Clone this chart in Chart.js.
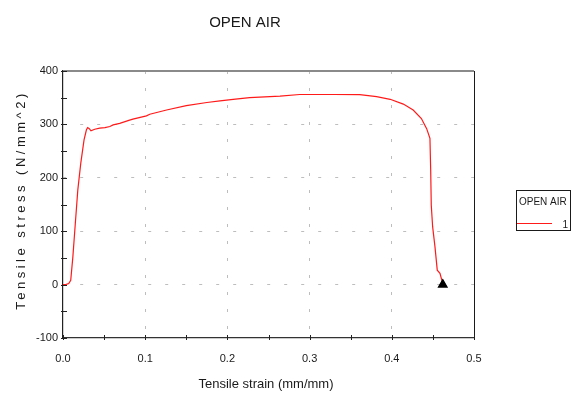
<!DOCTYPE html>
<html>
<head>
<meta charset="utf-8">
<script src="https://cdn.jsdelivr.net/npm/chart.js@4/dist/chart.umd.min.js"></script>
<style>
  html, body { margin: 0; padding: 0; background: #fff; }
  #wrap { width: 578px; height: 398px; }
</style>
</head>
<body>
<div id="wrap"><canvas id="c" width="578" height="398"></canvas></div>
<script>
// Tensile test, specimen "1" tested in open air
const chartTitle = 'OPEN AIR';
const xTitle = 'Tensile strain (mm/mm)';
const yTitle = 'Tensile stress (N/mm^2)';
const seriesName = '1';

const strain = [0, 0.004, 0.007, 0.0094, 0.012, 0.015, 0.018, 0.0216, 0.0256, 0.0285,
  0.030, 0.032, 0.034, 0.0386, 0.0447, 0.051, 0.057, 0.061, 0.069, 0.081,
  0.085, 0.1015, 0.1056, 0.126, 0.150, 0.175, 0.191, 0.207, 0.227, 0.264,
  0.288, 0.330, 0.361, 0.3815, 0.398, 0.414, 0.426, 0.436, 0.4424, 0.4464,
  0.4473, 0.448, 0.4497, 0.4525, 0.4553, 0.4586, 0.4614, 0.462];
const stress = [0, 0.5, 2, 8, 52, 115, 177, 227, 271, 290,
  294, 292, 288, 291, 293, 294, 296, 299, 302, 308,
  310, 316, 319, 327, 335, 341, 344, 347, 350, 353,
  356, 356, 355.6, 352, 347, 338, 327, 311, 292, 274,
  215, 149, 108, 71, 27, 21, 5, 0];

const xMin = 0, xMax = 0.5, xMinor = 0.05;
const yMin = -100, yMax = 400, yMinor = 50;

const FONT = '"Liberation Sans", Arial, sans-serif';
const TEXT = '#1a1a1a';
const GRID = '#bdbdbd';

function isMajor(v, step) {
  const r = Math.abs(v / step - Math.round(v / step));
  return r < 1e-6;
}

const decorations = {
  id: 'decorations',
  afterDraw(chart) {
    const ctx = chart.ctx;
    const a = chart.chartArea;
    const xs = chart.scales.x, ys = chart.scales.y;
    ctx.save();

    // frame: grey top edge, dark right edge
    ctx.strokeStyle = '#8a8a8a';
    ctx.lineWidth = 2;
    ctx.beginPath(); ctx.moveTo(a.left, a.top); ctx.lineTo(a.right, a.top); ctx.stroke();
    ctx.strokeStyle = '#1a1a1a';
    ctx.lineWidth = 1;
    ctx.beginPath(); ctx.moveTo(a.right + 0.5, a.top); ctx.lineTo(a.right + 0.5, a.bottom); ctx.stroke();

    // tick marks crossing the axes
    ctx.strokeStyle = '#222';
    ctx.lineWidth = 1;
    xs.ticks.forEach(t => {
      const px = Math.round(xs.getPixelForValue(t.value)) + 0.5;
      ctx.beginPath(); ctx.moveTo(px, a.bottom - 3); ctx.lineTo(px, a.bottom + 2); ctx.stroke();
    });
    ys.ticks.forEach(t => {
      const py = Math.round(ys.getPixelForValue(t.value)) + 0.5;
      ctx.beginPath(); ctx.moveTo(a.left - 2, py); ctx.lineTo(a.left + 4, py); ctx.stroke();
    });

    ctx.fillStyle = TEXT;
    ctx.textBaseline = 'middle';
    ctx.textAlign = 'center';

    // chart title
    ctx.font = '15px ' + FONT;
    ctx.fillText(chartTitle, 245, 23);

    // axis titles
    ctx.font = '13px ' + FONT;
    ctx.fillText(xTitle, 266, 384);
    ctx.save();
    ctx.translate(21.5, 200);
    ctx.rotate(-Math.PI / 2);
    ctx.letterSpacing = '3.5px';
    ctx.fillText(yTitle, 0, 0);
    ctx.restore();

    // legend box
    const ds = chart.data.datasets[0];
    ctx.strokeStyle = '#1a1a1a';
    ctx.lineWidth = 1;
    ctx.strokeRect(516.5, 190.5, 54, 40);
    ctx.font = '10px ' + FONT;
    ctx.textAlign = 'left';
    ctx.textBaseline = 'alphabetic';
    ctx.fillText(chartTitle, 519, 205);
    ctx.strokeStyle = ds.borderColor;
    ctx.beginPath(); ctx.moveTo(517, 223.5); ctx.lineTo(552, 223.5); ctx.stroke();
    ctx.textAlign = 'right';
    ctx.fillText(ds.label, 568, 228);

    ctx.restore();
  }
};

const points = strain.map((x, i) => ({ x: x, y: stress[i] }));
const last = points.length - 1;

new Chart(document.getElementById('c'), {
  type: 'scatter',
  data: {
    datasets: [{
      label: seriesName,
      data: points,
      showLine: true,
      borderColor: '#ff1a1a',
      borderWidth: 1.2,
      tension: 0,
      pointStyle: 'triangle',
      pointRadius: ctx => ctx.dataIndex === last ? 5 : 0,
      pointHoverRadius: 0,
      pointBackgroundColor: '#000',
      pointBorderColor: '#000',
      clip: false
    }]
  },
  options: {
    responsive: false,
    animation: false,
    events: [],
    layout: { padding: { left: 0, top: 71, right: 104, bottom: 0 } },
    plugins: { legend: { display: false }, title: { display: false }, tooltip: { enabled: false } },
    scales: {
      x: {
        type: 'linear',
        min: xMin, max: xMax,
        afterFit: s => { s.height = 60; },
        ticks: {
          stepSize: xMinor,
          padding: 14,
          color: TEXT,
          font: { family: FONT, size: 11 },
          maxRotation: 0,
          autoSkip: false,
          callback: v => isMajor(v, 0.1) ? v.toFixed(1) : ''
        },
        grid: {
          drawTicks: false,
          color: c => (c.tick && isMajor(c.tick.value, 0.1) && c.tick.value > xMin && c.tick.value < xMax) ? GRID : 'rgba(0,0,0,0)',
          lineWidth: 1
        },
        border: { display: true, color: '#333', width: 1.2, dash: [3, 14] }
      },
      y: {
        type: 'linear',
        min: yMin, max: yMax,
        afterFit: s => { s.width = 63; },
        ticks: {
          stepSize: yMinor,
          padding: 5,
          color: TEXT,
          font: { family: FONT, size: 11 },
          autoSkip: false,
          callback: v => isMajor(v, 100) ? String(v) : ''
        },
        grid: {
          drawTicks: false,
          color: c => (c.tick && isMajor(c.tick.value, 100) && c.tick.value > yMin && c.tick.value < yMax) ? GRID : 'rgba(0,0,0,0)',
          lineWidth: 1
        },
        border: { display: true, color: '#222', width: 1.2, dash: [3, 14] }
      }
    }
  },
  plugins: [decorations]
});
</script>
</body>
</html>
